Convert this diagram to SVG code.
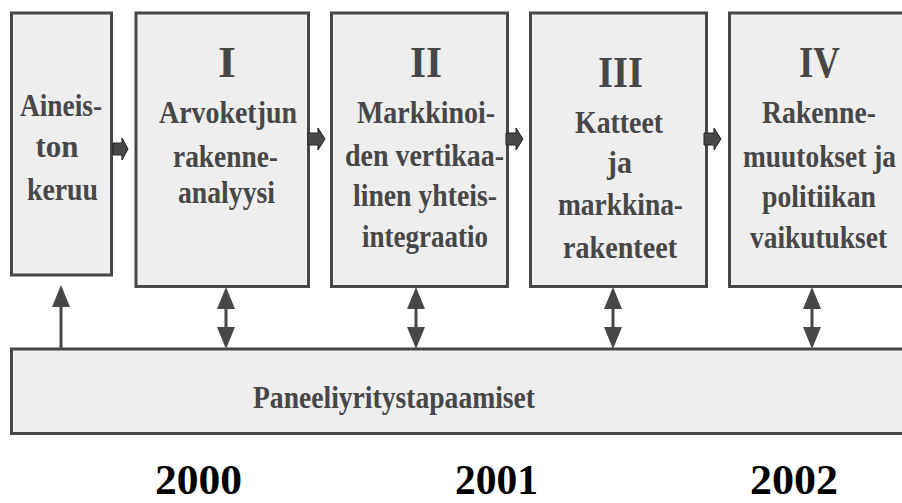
<svg xmlns="http://www.w3.org/2000/svg" width="902" height="503" viewBox="0 0 902 503">
<style>
.box{fill:#eeeeee;stroke:#474747;stroke-width:3}
.t{font-family:"Liberation Serif","Times New Roman",serif;font-weight:bold;font-size:31.5px;fill:#474747;text-anchor:middle}
.num{font-size:44px}
.yr{font-family:"Liberation Serif","Times New Roman",serif;font-weight:bold;font-size:42px;fill:#000;text-anchor:middle}
.blk{fill:#484848;stroke:#222;stroke-width:1}
.vl{stroke:#474747;stroke-width:3;fill:none}
</style>
<defs>
<marker id="ah" viewBox="0 0 22 18" refX="12" refY="9" markerWidth="22" markerHeight="18" markerUnits="userSpaceOnUse" orient="auto-start-reverse">
<path d="M0,0 L22,9 L0,18 Z" fill="#474747"/>
</marker>
</defs>
<rect width="902" height="503" fill="#fff"/>

<g id="n0">
<rect class="box" x="11.5" y="13" width="100" height="262"/>
<text class="t" x="61" y="116" textLength="82" lengthAdjust="spacingAndGlyphs">Aineis-</text>
<text class="t" x="57" y="157" textLength="43" lengthAdjust="spacingAndGlyphs">ton</text>
<text class="t" x="62.5" y="200" textLength="71" lengthAdjust="spacingAndGlyphs">keruu</text>
</g>

<g id="n1">
<rect class="box" x="136" y="13" width="172.5" height="273.5"/>
<text class="t num" x="227" y="77" textLength="18" lengthAdjust="spacingAndGlyphs">I</text>
<text class="t" x="228" y="123" textLength="138" lengthAdjust="spacingAndGlyphs">Arvoketjun</text>
<text class="t" x="225.5" y="167" textLength="105" lengthAdjust="spacingAndGlyphs">rakenne-</text>
<text class="t" x="226.5" y="203" textLength="97" lengthAdjust="spacingAndGlyphs">analyysi</text>
</g>

<g id="n2">
<rect class="box" x="331.5" y="13" width="176" height="273.5"/>
<text class="t num" x="426" y="77" textLength="32" lengthAdjust="spacingAndGlyphs">II</text>
<text class="t" x="426" y="123" textLength="138" lengthAdjust="spacingAndGlyphs">Markkinoi-</text>
<text class="t" x="424.5" y="166" textLength="159" lengthAdjust="spacingAndGlyphs">den vertikaa-</text>
<text class="t" x="425" y="206" textLength="144" lengthAdjust="spacingAndGlyphs">linen yhteis-</text>
<text class="t" x="425" y="247" textLength="126" lengthAdjust="spacingAndGlyphs">integraatio</text>
</g>

<g id="n3">
<rect class="box" x="530.5" y="13" width="176" height="273.5"/>
<text class="t num" x="620.5" y="87" textLength="45" lengthAdjust="spacingAndGlyphs">III</text>
<text class="t" x="619" y="133" textLength="88" lengthAdjust="spacingAndGlyphs">Katteet</text>
<text class="t" x="619.5" y="173" textLength="25" lengthAdjust="spacingAndGlyphs">ja</text>
<text class="t" x="620.5" y="215" textLength="125" lengthAdjust="spacingAndGlyphs">markkina-</text>
<text class="t" x="620" y="258" textLength="114" lengthAdjust="spacingAndGlyphs">rakenteet</text>
</g>

<g id="n4">
<rect class="box" x="729.5" y="13" width="180" height="273.5"/>
<text class="t num" x="819.5" y="77" textLength="41" lengthAdjust="spacingAndGlyphs">IV</text>
<text class="t" x="819" y="123" textLength="114" lengthAdjust="spacingAndGlyphs">Rakenne-</text>
<text class="t" x="819.5" y="167" textLength="153" lengthAdjust="spacingAndGlyphs">muutokset ja</text>
<text class="t" x="819" y="207" textLength="114" lengthAdjust="spacingAndGlyphs">politiikan</text>
<text class="t" x="818.5" y="248" textLength="137" lengthAdjust="spacingAndGlyphs">vaikutukset</text>
</g>

<g id="panel">
<rect class="box" x="11.5" y="349" width="900" height="84.5"/>
<text class="t" x="394" y="408" textLength="282" lengthAdjust="spacingAndGlyphs">Paneeliyritystapaamiset</text>
</g>

<g id="connectors">
<path class="blk" d="M113,143 H122 V138 L128,149 L122,160 V155 H113 Z"/>
<path class="blk" d="M308,133 H318 V128 L325,139 L318,150 V145 H308 Z"/>
<path class="blk" d="M506,133 H516 V128 L523,139 L516,150 V145 H506 Z"/>
<path class="blk" d="M704,133 H714 V128 L721,139 L714,150 V145 H704 Z"/>
<line class="vl" x1="61" y1="349" x2="61" y2="295" marker-end="url(#ah)"/>
<line class="vl" x1="226" y1="297" x2="226" y2="339" marker-start="url(#ah)" marker-end="url(#ah)"/>
<line class="vl" x1="416" y1="297" x2="416" y2="339" marker-start="url(#ah)" marker-end="url(#ah)"/>
<line class="vl" x1="613" y1="297" x2="613" y2="339" marker-start="url(#ah)" marker-end="url(#ah)"/>
<line class="vl" x1="812" y1="297" x2="812" y2="339" marker-start="url(#ah)" marker-end="url(#ah)"/>
</g>

<g id="years">
<text class="yr" x="198.5" y="494" textLength="87" lengthAdjust="spacingAndGlyphs">2000</text>
<text class="yr" x="496.5" y="494" textLength="83" lengthAdjust="spacingAndGlyphs">2001</text>
<text class="yr" x="794" y="494" textLength="88" lengthAdjust="spacingAndGlyphs">2002</text>
</g>
</svg>
